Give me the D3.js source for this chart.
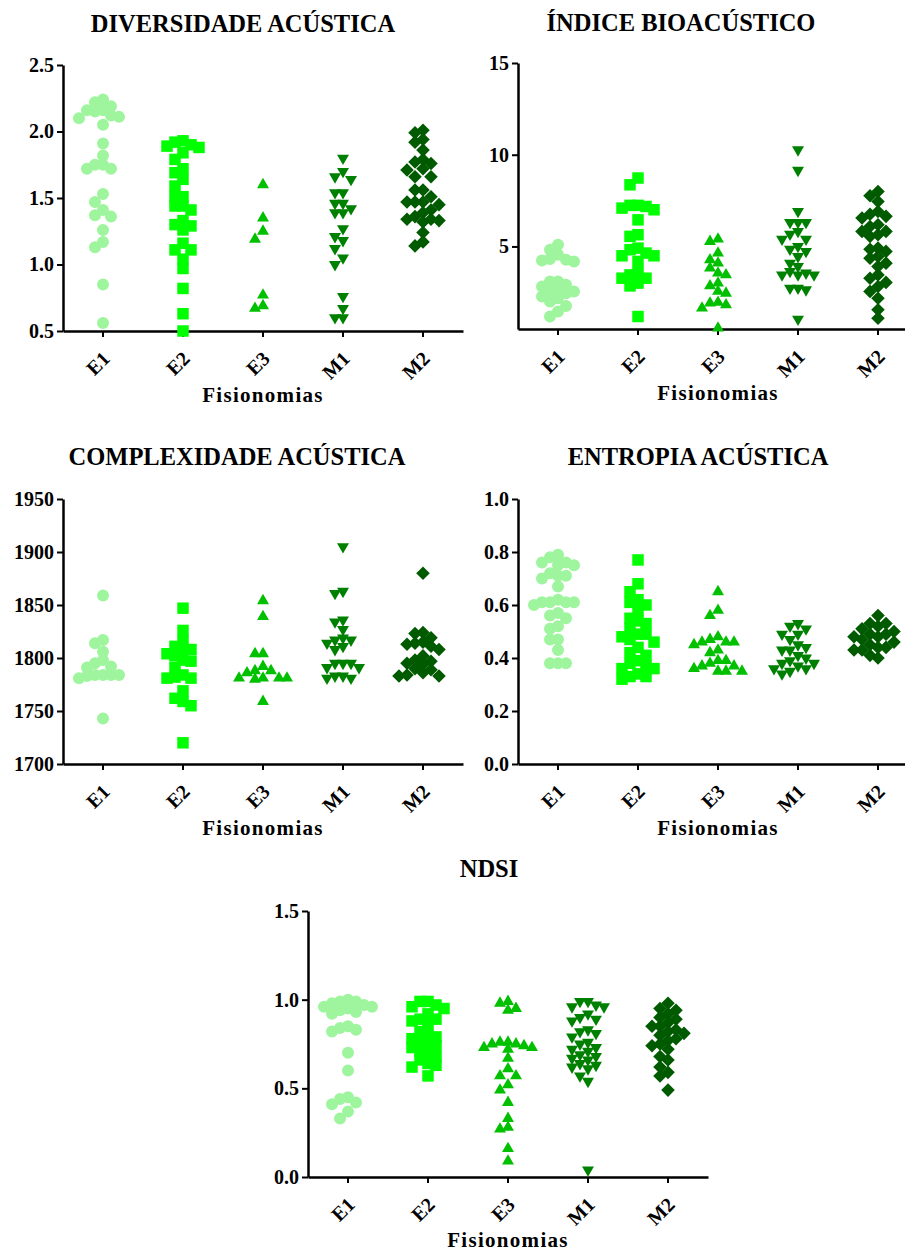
<!DOCTYPE html>
<html>
<head>
<meta charset="utf-8">
<script src="https://cdn.jsdelivr.net/npm/d3@7"></script>
<style>
  body { margin: 0; background: #fff; }
  svg { display: block; }
  text { font-family: "Liberation Serif", "Times New Roman", serif; font-weight: bold; fill: #000; }
</style>
</head>
<body>
<svg id="chart" width="905" height="1252"></svg>
<script>
const categories = ["E1", "E2", "E3", "M1", "M2"];
const colors = ["#9ef59e", "#00ff00", "#00c000", "#008000", "#005a00"];
const titles = ["DIVERSIDADE ACÚSTICA", "ÍNDICE BIOACÚSTICO", "COMPLEXIDADE ACÚSTICA", "ENTROPIA ACÚSTICA", "NDSI"];
const xLabel = "Fisionomias";

// values per category, order E1, E2, E3, M1, M2
const diversidade = [
  [2.24, 2.22, 2.19, 2.16, 2.16, 2.15, 2.12, 2.11, 2.10, 2.05, 1.91, 1.82, 1.75, 1.75, 1.72, 1.72, 1.53, 1.47, 1.41, 1.37, 1.36, 1.26, 1.17, 1.13, 0.85, 0.56],
  [1.93, 1.92, 1.90, 1.89, 1.88, 1.84, 1.79, 1.72, 1.69, 1.64, 1.59, 1.51, 1.51, 1.44, 1.44, 1.41, 1.33, 1.30, 1.29, 1.26, 1.16, 1.11, 1.11, 1.04, 0.97, 0.82, 0.63, 0.50],
  [1.60, 1.35, 1.25, 1.19, 0.77, 0.69, 0.67],
  [1.80, 1.70, 1.66, 1.64, 1.54, 1.54, 1.46, 1.46, 1.42, 1.39, 1.39, 1.27, 1.21, 1.18, 1.12, 1.05, 1.00, 0.76, 0.67, 0.60, 0.60],
  [2.01, 1.99, 1.94, 1.92, 1.86, 1.79, 1.77, 1.76, 1.72, 1.71, 1.66, 1.66, 1.56, 1.56, 1.51, 1.47, 1.47, 1.47, 1.45, 1.41, 1.39, 1.36, 1.34, 1.34, 1.33, 1.32, 1.24, 1.17, 1.14]
];
const bioacustico = [
  [5.09, 4.82, 4.55, 4.31, 4.27, 4.24, 4.18, 3.09, 3.09, 2.91, 2.82, 2.64, 2.55, 2.55, 2.45, 2.27, 2.18, 2.0, 1.76, 1.45, 1.18],
  [8.73, 8.36, 7.24, 7.24, 7.18, 7.09, 7.0, 6.45, 5.64, 5.55, 4.91, 4.82, 4.64, 4.49, 4.49, 4.18, 3.58, 3.45, 3.27, 3.27, 3.0, 2.85, 1.18],
  [5.4, 5.27, 4.64, 4.27, 4.09, 3.82, 3.55, 3.45, 3.0, 2.85, 2.55, 2.45, 1.95, 1.91, 1.82, 1.64, 0.55],
  [10.27, 9.15, 6.91, 6.31, 6.31, 6.31, 5.82, 5.67, 5.4, 5.4, 5.0, 4.85, 4.73, 4.45, 4.09, 3.91, 3.64, 3.55, 3.45, 3.45, 3.45, 2.73, 2.73, 2.64, 1.04],
  [8.0, 7.76, 7.45, 6.91, 6.76, 6.64, 6.55, 6.18, 6.09, 5.82, 5.82, 5.64, 5.55, 4.91, 4.85, 4.73, 4.45, 4.36, 4.09, 3.91, 3.45, 3.27, 3.04, 2.82, 2.55, 2.18, 1.55, 1.09]
];
const complexidade = [
  [1859, 1817, 1814, 1806, 1798, 1795, 1792, 1791, 1784, 1784, 1784, 1784, 1783, 1781, 1743],
  [1847, 1826, 1816, 1811, 1808, 1808, 1804, 1802, 1798, 1797, 1791, 1784, 1782, 1781, 1781, 1769, 1762, 1759, 1755, 1720],
  [1854, 1839, 1804, 1804, 1792, 1788, 1788, 1786, 1781, 1781, 1781, 1781, 1780, 1759],
  [1905, 1863, 1861, 1836, 1834, 1827, 1819, 1817, 1817, 1814, 1811, 1808, 1795, 1795, 1795, 1791, 1791, 1783, 1783, 1781, 1781],
  [1880, 1824, 1823, 1819, 1815, 1814, 1813, 1811, 1808, 1802, 1798, 1797, 1795, 1794, 1790, 1789, 1786, 1784, 1783, 1783]
];
const entropia = [
  [0.79, 0.78, 0.76, 0.76, 0.75, 0.75, 0.72, 0.71, 0.71, 0.70, 0.67, 0.62, 0.61, 0.61, 0.61, 0.61, 0.60, 0.57, 0.56, 0.55, 0.52, 0.51, 0.47, 0.47, 0.43, 0.38, 0.38, 0.38],
  [0.77, 0.68, 0.65, 0.62, 0.61, 0.60, 0.58, 0.55, 0.54, 0.53, 0.51, 0.49, 0.49, 0.48, 0.47, 0.46, 0.44, 0.42, 0.41, 0.39, 0.38, 0.37, 0.36, 0.36, 0.34, 0.33, 0.33, 0.32],
  [0.65, 0.58, 0.56, 0.48, 0.47, 0.46, 0.46, 0.46, 0.45, 0.43, 0.42, 0.39, 0.39, 0.38, 0.37, 0.37, 0.36, 0.35, 0.35, 0.35],
  [0.53, 0.52, 0.51, 0.49, 0.49, 0.47, 0.45, 0.44, 0.43, 0.43, 0.41, 0.40, 0.39, 0.38, 0.38, 0.37, 0.36, 0.36, 0.35, 0.34],
  [0.56, 0.53, 0.53, 0.52, 0.51, 0.50, 0.49, 0.49, 0.48, 0.48, 0.47, 0.46, 0.45, 0.44, 0.44, 0.43, 0.43, 0.41, 0.40]
];
const ndsi = [
  [1.0, 0.99, 0.99, 0.98, 0.97, 0.96, 0.96, 0.95, 0.94, 0.93, 0.92, 0.85, 0.84, 0.83, 0.82, 0.70, 0.60, 0.45, 0.44, 0.42, 0.41, 0.37, 0.33],
  [0.99, 0.99, 0.97, 0.96, 0.95, 0.92, 0.89, 0.89, 0.88, 0.86, 0.82, 0.80, 0.79, 0.78, 0.76, 0.75, 0.74, 0.73, 0.71, 0.70, 0.68, 0.66, 0.64, 0.63, 0.62, 0.57],
  [0.99, 0.98, 0.95, 0.94, 0.76, 0.76, 0.75, 0.75, 0.74, 0.73, 0.73, 0.72, 0.67, 0.61, 0.57, 0.57, 0.52, 0.49, 0.42, 0.33, 0.28, 0.27, 0.16, 0.09],
  [0.99, 0.99, 0.97, 0.96, 0.96, 0.92, 0.90, 0.89, 0.88, 0.83, 0.82, 0.81, 0.79, 0.76, 0.75, 0.73, 0.72, 0.71, 0.69, 0.68, 0.67, 0.66, 0.64, 0.63, 0.62, 0.61, 0.57, 0.54, 0.04],
  [0.98, 0.95, 0.94, 0.92, 0.90, 0.89, 0.87, 0.85, 0.85, 0.83, 0.82, 0.81, 0.80, 0.78, 0.77, 0.75, 0.74, 0.72, 0.68, 0.66, 0.62, 0.59, 0.57, 0.49]
];

// y axis ticks and ranges
const ticksDiversidade = [0.5, 1.0, 1.5, 2.0, 2.5];
const ticksBio = [5, 10, 15];
const ticksComplex = [1700, 1750, 1800, 1850, 1900, 1950];
const ticksEntropia = [0, 0.2, 0.4, 0.6, 0.8, 1.0];
const ticksNdsi = [0, 0.5, 1.0, 1.5];
const domainBio = [0.5, 15];

const panels = [
  { title: titles[0], data: diversidade, ticks: ticksDiversidade, fmt: ".1f", x0: 63, top: 65, bottom: 331, tx: 243, ty: 32, ly: 402 },
  { title: titles[1], data: bioacustico, ticks: ticksBio, domain: domainBio, fmt: "d", x0: 518, top: 63, bottom: 329, tx: 681, ty: 31, ly: 400 },
  { title: titles[2], data: complexidade, ticks: ticksComplex, fmt: "d", x0: 63, top: 499, bottom: 764, tx: 237, ty: 465, ly: 835 },
  { title: titles[3], data: entropia, ticks: ticksEntropia, fmt: ".1f", x0: 518, top: 499, bottom: 764, tx: 698, ty: 465, ly: 835 },
  { title: titles[4], data: ndsi, ticks: ticksNdsi, fmt: ".1f", x0: 308, top: 911, bottom: 1177, tx: 489, ty: 877, ly: 1247 }
];

const shapes = [
  { type: d3.symbolCircle, size: 113, rot: 0 },
  { type: d3.symbolSquare, size: 132, rot: 0 },
  { type: d3.symbolTriangle, size: 62, rot: 0 },
  { type: d3.symbolTriangle, size: 62, rot: 180 },
  { type: d3.symbolSquare, size: 92, rot: 45 }
];

const svg = d3.select("#chart");

// spread points sideways like a scatter dot plot
function swarm(values, y, step, minDist, maxSteps) {
  const placed = [];
  return values.map(v => {
    const py = y(v);
    let best = 0, bestD = -1;
    for (let k = 0; k <= maxSteps * 2; k++) {
      const off = (k % 2 ? -1 : 1) * Math.ceil(k / 2) * step;
      const d = placed.length ? d3.min(placed, p => Math.hypot(p[0] - off, p[1] - py)) : Infinity;
      if (d >= minDist) { best = off; break; }
      if (d > bestD) { bestD = d; best = off; }
    }
    placed.push([best, py]);
    return [best, py];
  });
}

panels.forEach(p => {
  const g = svg.append("g");
  const dom = p.domain || d3.extent(p.ticks);

  const x = d3.scaleBand().domain(categories).range([p.x0, p.x0 + 400]);
  const y = d3.scaleLinear().domain(dom).range([p.bottom, p.top]);

  g.append("text")
    .attr("x", p.tx).attr("y", p.ty)
    .attr("text-anchor", "middle")
    .style("font-size", "24.5px")
    .text(p.title);

  // y axis
  g.append("g")
    .attr("transform", `translate(${p.x0},0)`)
    .call(d3.axisLeft(y).tickValues(p.ticks).tickFormat(d3.format(p.fmt)).tickSize(6).tickSizeOuter(0).tickPadding(3))
    .call(a => a.select(".domain").attr("stroke-width", 2.5))
    .call(a => a.selectAll(".tick line").attr("stroke-width", 2))
    .call(a => a.selectAll(".tick text").style("font-size", "20px").style("font-family", '"Liberation Serif", serif'));

  // x axis
  g.append("g")
    .attr("transform", `translate(0,${p.bottom})`)
    .call(d3.axisBottom(x).tickSize(6).tickSizeOuter(0))
    .call(a => a.select(".domain").attr("stroke-width", 2.5))
    .call(a => a.selectAll(".tick line").attr("stroke-width", 2))
    .call(a => a.selectAll(".tick text")
      .attr("y", 0).attr("dy", 0)
      .attr("text-anchor", "end")
      .attr("transform", "translate(8,29) rotate(-45)")
      .style("font-size", "20px").style("font-family", '"Liberation Serif", serif'));

  g.append("text")
    .attr("x", p.x0 + 200).attr("y", p.ly)
    .attr("text-anchor", "middle")
    .style("font-size", "21px")
    .style("letter-spacing", "1.3px")
    .text(xLabel);

  // points
  p.data.forEach((vals, i) => {
    const s = shapes[i];
    const sym = d3.symbol().type(s.type).size(s.size);
    const pos = swarm(vals, y, 8, 8, 3);
    g.append("g")
      .attr("fill", colors[i])
      .selectAll("path")
      .data(pos)
      .join("path")
      .attr("d", sym)
      .attr("transform", d => `translate(${x(categories[i]) + x.bandwidth() / 2 + d[0]},${d[1]}) rotate(${s.rot})`);
  });
});
</script>
</body>
</html>
